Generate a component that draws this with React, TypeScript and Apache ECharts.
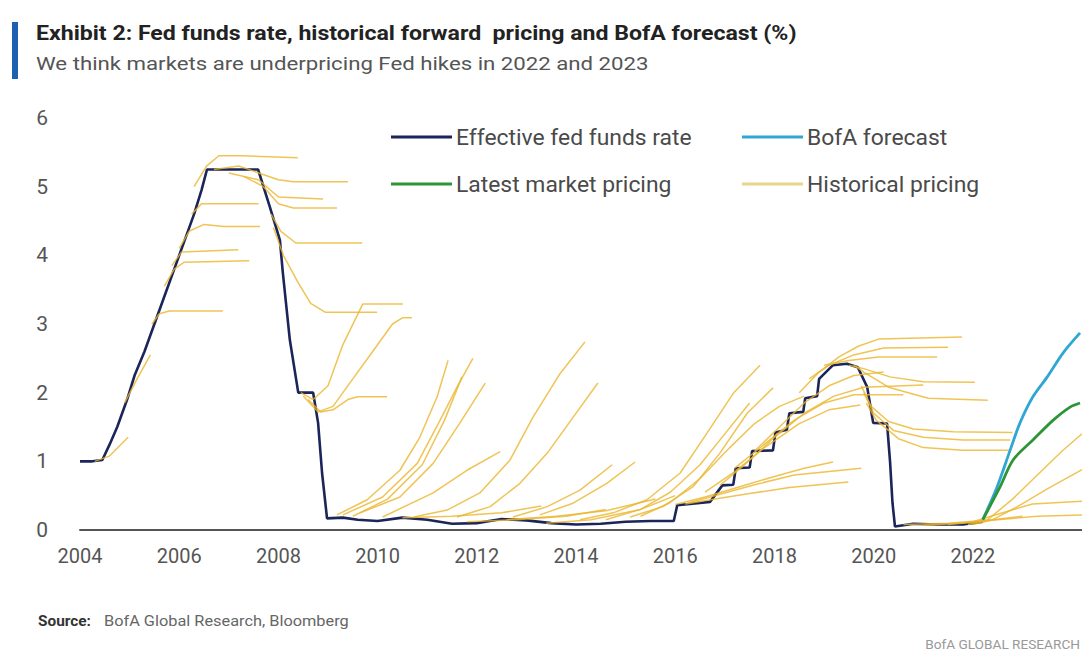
import React, { useEffect, useRef } from 'react';
import * as echarts from 'echarts';

// ---------- data ----------
const yearTicks = [2004, 2006, 2008, 2010, 2012, 2014, 2016, 2018, 2020, 2022];
const rateTicks = [0, 1, 2, 3, 4, 5, 6];

const effectiveFedFunds: [number, number][] = [
  [2004.0, 1.0], [2004.25, 1.0], [2004.45, 1.02], [2004.6, 1.25], [2004.75, 1.5], [2004.95, 1.9],
  [2005.1, 2.25], [2005.3, 2.6], [2005.5, 3.0], [2005.7, 3.4], [2005.9, 3.8], [2006.1, 4.2],
  [2006.3, 4.6], [2006.45, 4.95], [2006.56, 5.25], [2007.59, 5.25], [2007.83, 4.7], [2008.03, 4.22],
  [2008.09, 3.74], [2008.23, 2.77], [2008.4, 2.0], [2008.7, 2.0], [2008.8, 1.56], [2008.88, 0.83],
  [2008.98, 0.17], [2009.3, 0.18], [2009.6, 0.15], [2010.0, 0.13], [2010.5, 0.18], [2011.0, 0.15],
  [2011.5, 0.09], [2012.0, 0.1], [2012.5, 0.16], [2013.0, 0.14], [2013.5, 0.1], [2014.0, 0.08],
  [2014.5, 0.09], [2015.0, 0.12], [2015.5, 0.13], [2015.97, 0.13], [2016.04, 0.36], [2016.7, 0.41],
  [2016.95, 0.65], [2017.17, 0.66], [2017.22, 0.9], [2017.5, 0.91], [2017.55, 1.15], [2017.97, 1.16],
  [2018.02, 1.42], [2018.25, 1.46], [2018.3, 1.7], [2018.58, 1.72], [2018.62, 1.92], [2018.86, 1.95],
  [2018.9, 2.2], [2019.18, 2.4], [2019.46, 2.42], [2019.68, 2.37], [2019.87, 2.08], [2019.99, 1.56],
  [2020.27, 1.55], [2020.33, 1.0], [2020.38, 0.39], [2020.43, 0.05], [2020.8, 0.09], [2021.3, 0.08],
  [2021.8, 0.08], [2022.2, 0.12],
];

const bofaForecast: [number, number][] = [
  [2022.2, 0.15], [2022.49, 0.63], [2022.75, 1.16], [2022.95, 1.56], [2023.21, 1.94],
  [2023.5, 2.23], [2023.82, 2.58], [2024.16, 2.87],
];

const latestMarketPricing: [number, number][] = [
  [2022.2, 0.15], [2022.55, 0.63], [2022.81, 1.02], [2023.21, 1.31], [2023.62, 1.6],
  [2023.96, 1.79], [2024.16, 1.85],
];

// historical forward curves, 2004-2006
const hist2004a: [number, number][] = [[2004.3, 1.0], [2004.6, 1.08], [2004.97, 1.35]];
const hist2005a: [number, number][] = [[2004.9, 1.85], [2005.15, 2.2], [2005.42, 2.55]];
const hist2005b: [number, number][] = [[2005.45, 3.0], [2005.6, 3.15], [2005.8, 3.19], [2006.88, 3.19]];
const hist2005c: [number, number][] = [[2005.7, 3.55], [2005.9, 3.8], [2006.1, 3.9], [2007.41, 3.92]];
const hist2005d: [number, number][] = [[2005.85, 3.85], [2006.05, 4.05], [2007.19, 4.08]];
const hist2006a: [number, number][] = [[2006.0, 4.1], [2006.2, 4.35], [2006.5, 4.45], [2006.9, 4.42], [2007.63, 4.42]];
const hist2006b: [number, number][] = [[2006.25, 4.6], [2006.45, 4.75], [2007.6, 4.75]];
const hist2006c: [number, number][] = [[2006.3, 5.0], [2006.55, 5.3], [2006.8, 5.45], [2007.3, 5.45], [2008.39, 5.42]];
// 2007-2008
const hist2007a: [number, number][] = [[2006.7, 5.25], [2007.2, 5.3], [2007.6, 5.2], [2008.0, 5.1], [2008.3, 5.07], [2009.4, 5.07]];
const hist2007b: [number, number][] = [[2007.0, 5.2], [2007.6, 5.1], [2008.0, 4.85], [2008.9, 4.82]];
const hist2007c: [number, number][] = [[2007.3, 5.15], [2007.7, 5.0], [2008.0, 4.75], [2008.3, 4.69], [2009.18, 4.69]];
const hist2007d: [number, number][] = [[2007.85, 4.6], [2008.05, 4.35], [2008.35, 4.18], [2009.69, 4.18]];
const hist2007e: [number, number][] = [[2007.9, 4.4], [2008.1, 4.0], [2008.4, 3.6], [2008.65, 3.3], [2008.95, 3.17], [2009.99, 3.17]];
const hist2008a: [number, number][] = [[2008.45, 2.0], [2008.7, 1.9], [2009.0, 2.1], [2009.3, 2.7], [2009.7, 3.29], [2010.51, 3.29]];
const hist2008b: [number, number][] = [[2008.5, 1.95], [2008.8, 1.72], [2009.1, 1.8], [2009.5, 2.2], [2009.9, 2.6], [2010.3, 3.0], [2010.5, 3.09], [2010.69, 3.09]];
const hist2008c: [number, number][] = [[2008.6, 1.9], [2008.85, 1.72], [2009.1, 1.75], [2009.4, 1.9], [2009.6, 1.94], [2010.19, 1.94]];
// 2009-2013
const hist2009a: [number, number][] = [[2009.18, 0.22], [2009.79, 0.44], [2010.45, 0.87], [2010.85, 1.35], [2011.2, 1.94], [2011.42, 2.47]];
const hist2009b: [number, number][] = [[2009.3, 0.22], [2010.1, 0.48], [2010.8, 0.97], [2011.26, 1.6], [2011.6, 2.08], [2011.92, 2.5]];
const hist2009c: [number, number][] = [[2009.65, 0.25], [2010.45, 0.48], [2011.12, 0.97], [2011.66, 1.56], [2012.17, 2.14]];
const hist2009d: [number, number][] = [[2009.5, 0.2], [2010.2, 0.45], [2010.9, 0.95], [2011.35, 1.6], [2011.7, 2.23]];
const hist2010a: [number, number][] = [[2010.1, 0.19], [2011.12, 0.54], [2011.8, 0.87], [2012.47, 1.14]];
const hist2010b: [number, number][] = [[2010.73, 0.19], [2011.4, 0.29], [2012.06, 0.54], [2012.67, 1.02], [2013.13, 1.64], [2013.68, 2.28], [2014.18, 2.74]];
const hist2010c: [number, number][] = [[2010.5, 0.18], [2011.5, 0.2], [2012.5, 0.25], [2013.3, 0.35]];
const hist2011a: [number, number][] = [[2011.6, 0.19], [2012.27, 0.34], [2012.87, 0.68], [2013.42, 1.12], [2013.94, 1.64], [2014.44, 2.14]];
const hist2011b: [number, number][] = [[2011.8, 0.12], [2012.8, 0.15], [2013.8, 0.2], [2014.6, 0.3]];
const hist2012a: [number, number][] = [[2012.73, 0.19], [2013.42, 0.34], [2014.08, 0.58], [2014.73, 0.95]];
const hist2012b: [number, number][] = [[2012.6, 0.15], [2013.6, 0.2], [2014.6, 0.28], [2015.6, 0.45]];
const hist2013a: [number, number][] = [[2013.27, 0.22], [2013.94, 0.39], [2014.62, 0.68], [2015.19, 0.99]];
const hist2013b: [number, number][] = [[2013.4, 0.1], [2014.3, 0.15], [2015.3, 0.3], [2016.0, 0.5]];
// 2014-2016
const hist2014a: [number, number][] = [[2014.08, 0.15], [2014.75, 0.25], [2015.43, 0.44], [2016.1, 0.83], [2016.64, 1.41], [2017.17, 1.99], [2017.71, 2.4]];
const hist2014b: [number, number][] = [[2014.6, 0.15], [2015.3, 0.3], [2015.9, 0.55], [2016.5, 0.95], [2017.0, 1.4], [2017.5, 1.85]];
const hist2015a: [number, number][] = [[2015.09, 0.19], [2015.75, 0.34], [2016.36, 0.63], [2016.9, 1.12], [2017.45, 1.7], [2017.97, 2.07]];
const hist2015b: [number, number][] = [[2015.3, 0.2], [2015.9, 0.4], [2016.5, 0.75], [2017.1, 1.2], [2017.6, 1.55], [2018.1, 1.8], [2018.6, 1.95]];
const hist2016a: [number, number][] = [[2016.0, 0.37], [2016.6, 0.48], [2017.3, 0.63], [2018.0, 0.78], [2018.6, 0.9], [2019.18, 0.99]];
const hist2016b: [number, number][] = [[2016.3, 0.4], [2016.9, 0.52], [2017.6, 0.66], [2018.4, 0.8], [2019.75, 0.9]];
const hist2016c: [number, number][] = [[2016.2, 0.38], [2016.8, 0.45], [2017.5, 0.53], [2018.3, 0.62], [2019.49, 0.7]];
const hist2016d: [number, number][] = [[2016.6, 0.55], [2017.2, 0.85], [2017.8, 1.2], [2018.5, 1.55], [2019.1, 1.75], [2019.73, 1.82]];
const hist2016e: [number, number][] = [[2016.9, 0.65], [2017.4, 0.95], [2018.0, 1.35], [2018.6, 1.7], [2019.2, 1.95], [2019.8, 2.08], [2021.0, 2.11]];
const hist2017a: [number, number][] = [[2017.2, 0.9], [2017.8, 1.25], [2018.4, 1.6], [2019.0, 1.85], [2019.6, 1.97], [2020.6, 1.97]];
const hist2017b: [number, number][] = [[2017.6, 1.15], [2018.1, 1.5], [2018.6, 1.85], [2019.1, 2.1], [2019.6, 2.25], [2020.2, 2.3]];
// 2018-2020
const hist2018a: [number, number][] = [[2018.5, 2.0], [2018.9, 2.3], [2019.3, 2.52], [2019.7, 2.68], [2020.1, 2.78], [2021.78, 2.81]];
const hist2018b: [number, number][] = [[2018.7, 2.2], [2019.1, 2.4], [2019.6, 2.55], [2020.2, 2.65], [2021.5, 2.66]];
const hist2019a: [number, number][] = [[2019.0, 2.4], [2019.5, 2.47], [2020.1, 2.52], [2021.28, 2.52]];
const hist2019b: [number, number][] = [[2019.5, 2.4], [2019.8, 2.35], [2020.33, 2.23], [2021.0, 2.16], [2022.04, 2.15]];
const hist2019c: [number, number][] = [[2019.6, 2.4], [2019.8, 2.3], [2020.3, 2.08], [2021.1, 1.92], [2022.3, 1.89]];
const hist2019d: [number, number][] = [[2019.75, 2.1], [2019.95, 1.8], [2020.3, 1.58], [2020.8, 1.47], [2021.6, 1.43], [2022.8, 1.42]];
const hist2019e: [number, number][] = [[2019.8, 2.0], [2020.0, 1.7], [2020.4, 1.45], [2021.0, 1.35], [2021.8, 1.31], [2022.75, 1.31]];
const hist2019f: [number, number][] = [[2019.85, 1.85], [2020.05, 1.6], [2020.5, 1.33], [2021.0, 1.2], [2021.8, 1.16], [2022.75, 1.16]];
// 2020-2022
const hist2020a: [number, number][] = [[2020.6, 0.08], [2021.5, 0.1], [2022.4, 0.15], [2023.0, 0.2]];
const hist2021a: [number, number][] = [[2021.0, 0.07], [2021.8, 0.1], [2022.5, 0.15], [2023.3, 0.2], [2024.2, 0.22]];
const hist2021b: [number, number][] = [[2021.5, 0.08], [2022.0, 0.12], [2022.6, 0.25], [2023.2, 0.38], [2024.2, 0.42]];
const hist2021c: [number, number][] = [[2021.9, 0.08], [2022.3, 0.15], [2022.8, 0.45], [2023.3, 0.8], [2023.8, 1.15], [2024.2, 1.4]];
const hist2022a: [number, number][] = [[2022.0, 0.08], [2022.4, 0.15], [2022.9, 0.34], [2023.5, 0.6], [2024.2, 0.88]];

const historicalCurves = [
  hist2004a, hist2005a, hist2005b, hist2005c, hist2005d, hist2006a, hist2006b, hist2006c,
  hist2007a, hist2007b, hist2007c, hist2007d, hist2007e, hist2008a, hist2008b, hist2008c,
  hist2009a, hist2009b, hist2009c, hist2009d, hist2010a, hist2010b, hist2010c, hist2011a,
  hist2011b, hist2012a, hist2012b, hist2013a, hist2013b, hist2014a, hist2014b, hist2015a,
  hist2015b, hist2016a, hist2016b, hist2016c, hist2016d, hist2016e, hist2017a, hist2017b,
  hist2018a, hist2018b, hist2019a, hist2019b, hist2019c, hist2019d, hist2019e, hist2019f,
  hist2020a, hist2021a, hist2021b, hist2021c, hist2022a,
];

const titleText = 'Exhibit 2: Fed funds rate, historical forward  pricing and BofA forecast (%)';
const subtitleText = 'We think markets are underpricing Fed hikes in 2022 and 2023';
const legendNames = ['Effective fed funds rate', 'BofA forecast', 'Latest market pricing', 'Historical pricing'];

// ---------- styles ----------
const C_EFFR = '#1b2559';
const C_BOFA = '#2fa6d4';
const C_MKT = '#2e9537';
const C_HIST = '#ebb52a';
const FONT = 'Roboto, "Open Sans", sans-serif';

function buildOption() {
  const histSeries = historicalCurves.map((c, i) => ({
    name: 'Historical pricing',
    id: 'hist' + i,
    type: 'line',
    data: c,
    showSymbol: false,
    symbol: 'none',
    silent: true,
    z: 3,
    lineStyle: { color: C_HIST, width: 1.5, opacity: 0.8 },
  }));

  const legendItem = (lx: number, ly: number, color: string, width: number, label: string) => [
    { type: 'line', shape: { x1: lx, y1: ly, x2: lx + 61, y2: ly }, style: { stroke: color, lineWidth: width } },
    {
      type: 'text', x: lx + 65, y: ly, scaleX: 1.04,
      style: { text: label, font: `22px ${FONT}`, fill: '#4a4a4a', verticalAlign: 'middle', align: 'left' },
    },
  ];

  return {
    animation: false,
    backgroundColor: '#ffffff',
    grid: { left: 80, right: 0, top: 118, bottom: 123, containLabel: false },
    xAxis: {
      type: 'value',
      min: 2004,
      max: 2024.2,
      interval: 2,
      axisLine: { show: true, lineStyle: { color: '#555', width: 2 } },
      axisTick: { show: false },
      splitLine: { show: false },
      axisLabel: {
        margin: 16,
        color: '#555',
        fontSize: 20,
        fontFamily: FONT,
        showMaxLabel: false,
        formatter: (v: number) => (yearTicks.includes(v) ? String(v) : ''),
      },
    },
    yAxis: {
      type: 'value',
      min: rateTicks[0],
      max: rateTicks[rateTicks.length - 1],
      interval: 1,
      axisLine: { show: false },
      axisTick: { show: false },
      splitLine: { show: false },
      axisLabel: { margin: 32, color: '#555', fontSize: 21, fontFamily: FONT },
    },
    series: [
      {
        name: legendNames[0], type: 'line', data: effectiveFedFunds, showSymbol: false, symbol: 'none',
        z: 2, lineStyle: { color: C_EFFR, width: 2.6 },
      },
      ...histSeries,
      {
        name: legendNames[1], type: 'line', data: bofaForecast, showSymbol: false, symbol: 'none', smooth: 0.3,
        z: 5, lineStyle: { color: C_BOFA, width: 2.8 },
      },
      {
        name: legendNames[2], type: 'line', data: latestMarketPricing, showSymbol: false, symbol: 'none', smooth: 0.3,
        z: 5, lineStyle: { color: C_MKT, width: 2.8 },
      },
    ],
    graphic: [
      { type: 'rect', shape: { x: 12, y: 22, width: 6, height: 57 }, style: { fill: '#1d5fb0' } },
      {
        type: 'text', x: 36, y: 33, scaleX: 1.1,
        style: { text: titleText, font: `bold 21px ${FONT}`, fill: '#222', verticalAlign: 'middle' },
      },
      {
        type: 'text', x: 36, y: 64, scaleX: 1.17,
        style: { text: subtitleText, font: `19px ${FONT}`, fill: '#555', verticalAlign: 'middle' },
      },
      ...legendItem(391, 137, C_EFFR, 3, legendNames[0]),
      ...legendItem(742, 137, C_BOFA, 3, legendNames[1]),
      ...legendItem(391, 184, C_MKT, 3, legendNames[2]),
      ...legendItem(742, 184, '#e8d48a', 3, legendNames[3]),
      {
        type: 'text', x: 38, y: 621, scaleX: 1.1,
        style: { text: 'Source:', font: `bold 14px ${FONT}`, fill: '#333', verticalAlign: 'middle' },
      },
      {
        type: 'text', x: 104, y: 621, scaleX: 1.09,
        style: { text: 'BofA Global Research, Bloomberg', font: `15px ${FONT}`, fill: '#666', verticalAlign: 'middle' },
      },
      {
        type: 'text', x: 1080, y: 645, scaleX: 1.05,
        style: { text: 'BofA GLOBAL RESEARCH', font: `13px ${FONT}`, fill: '#999', verticalAlign: 'middle', align: 'right' },
      },
    ],
  };
}

export default function App() {
  const ref = useRef<HTMLDivElement>(null);
  useEffect(() => {
    if (!ref.current) return;
    const chart = echarts.init(ref.current, null, { renderer: 'svg' });
    chart.setOption(buildOption() as any);
    return () => chart.dispose();
  }, []);
  return (
    <div
      ref={ref}
      style={{ position: 'fixed', left: 0, top: 0, width: 1082, height: 653, background: '#fff' }}
    />
  );
}
